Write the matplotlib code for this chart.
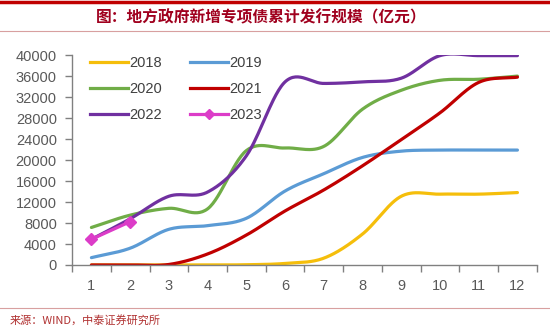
import numpy as np
import matplotlib
matplotlib.use("Agg")
import matplotlib.pyplot as plt
from matplotlib.lines import Line2D

plt.rcParams['font.family'] = ['Liberation Sans', 'Noto Sans CJK SC', 'DejaVu Sans']

months = list(range(1, 13))
month_labels = [str(m) for m in months]

y2018 = [0, 0, 0, 0, 50, 300, 1300, 5900, 13100, 13500, 13500, 13800]
y2019 = [1400, 3200, 6800, 7500, 8900, 14100, 17400, 20500, 21700, 21900, 21900, 21900]
y2020 = [7150, 9500, 10800, 10700, 21800, 22300, 22600, 29700, 33300, 35200, 35400, 36000]
y2021 = [0, 0, 100, 2100, 5700, 10300, 14300, 18900, 23900, 29000, 34800, 35800]
y2022 = [4900, 8800, 13100, 13900, 20800, 34900, 34600, 34900, 35600, 39900, 39900, 39900]
y2023 = [4900, 8250]

yticks = list(range(0, 40001, 4000))

series = [
    ("2018", y2018, "#F5BE0B"),
    ("2019", y2019, "#5B9BD5"),
    ("2020", y2020, "#70AD47"),
    ("2021", y2021, "#C00000"),
    ("2022", y2022, "#7030A0"),
]
c2023 = "#DC3CC8"


def smooth(x, y, n=30):
    x = np.asarray(x, float)
    y = np.asarray(y, float)
    if len(x) < 3:
        return x, y
    P = np.column_stack([x, y])
    P = np.vstack([P[0] - (P[1] - P[0]), P, P[-1] + (P[-1] - P[-2])])
    out = []
    for i in range(1, len(P) - 2):
        p0, p1, p2, p3 = P[i - 1], P[i], P[i + 1], P[i + 2]
        t = np.linspace(0, 1, n, endpoint=False)[:, None]
        b1 = p1 + (p2 - p0) / 6
        b2 = p2 - (p3 - p1) / 6
        pts = ((1 - t) ** 3) * p1 + 3 * ((1 - t) ** 2) * t * b1 + 3 * (1 - t) * t ** 2 * b2 + t ** 3 * p2
        out.append(pts)
    out.append(P[-2][None, :])
    out = np.vstack(out)
    return out[:, 0], out[:, 1]


fig = plt.figure(figsize=(5.5, 3.3), dpi=100)
ax = fig.add_axes([0.131, 0.197, 0.845, 0.636])

lw = 2.3
handles = {}
for name, vals, col in series:
    sx, sy = smooth(months, vals)
    ax.plot(sx, sy, color=col, lw=lw, solid_capstyle='round', zorder=2)
    handles[name] = Line2D([], [], color=col, lw=lw)

ax.plot(months[:len(y2023)], y2023, color=c2023, lw=lw, marker='D', ms=6,
        markeredgecolor=c2023, zorder=3)
handles["2023"] = Line2D([], [], color=c2023, lw=lw, marker='D', ms=5)

ax.set_xlim(0.5, 12.5)
ax.set_ylim(0, 40000)
ax.set_yticks(yticks)
ax.set_yticklabels([str(v) for v in yticks])
ax.set_xticks(months)
ax.set_xticklabels(month_labels)
ax.set_xticks(np.arange(0.5, 12.6, 1), minor=True)
ax.tick_params(axis='x', which='major', length=0, pad=10, labelsize=10.5, labelcolor='#595959')
ax.tick_params(axis='x', which='minor', length=5, color='#808080', width=1)
ax.tick_params(axis='y', length=5, color='#808080', width=1, labelsize=10.5,
               labelcolor='#595959', pad=6)
for s in ['top', 'right']:
    ax.spines[s].set_visible(False)
for s in ['left', 'bottom']:
    ax.spines[s].set_color('#808080')
    ax.spines[s].set_linewidth(1)

order = ["2018", "2020", "2022", "2019", "2021", "2023"]
leg = ax.legend([handles[k] for k in order], order, ncol=2, frameon=False,
                loc='upper left', bbox_to_anchor=(0.01, 1.06), fontsize=10.5,
                handlelength=2.6, handletextpad=0.1, columnspacing=1.9,
                labelspacing=0.85, labelcolor='#404040')

# decorations
fig.add_artist(Line2D([0, 1], [0.994, 0.994], color='#C00000', lw=2.5, transform=fig.transFigure))
fig.add_artist(Line2D([0, 1], [0.906, 0.906], color='#D8A0A0', lw=0.8, transform=fig.transFigure))
fig.add_artist(Line2D([0, 1], [0.067, 0.067], color='#D8A0A0', lw=0.8, transform=fig.transFigure))
fig.text(0.475, 0.948, "图：地方政府新增专项债累计发行规模（亿元）", ha='center', va='center',
         fontsize=11.3, fontweight='bold', color='#A0001E',
         family=['Noto Sans CJK SC', 'DejaVu Sans'])
fig.text(0.018, 0.028, "来源：WIND，中泰证券研究所", ha='left', va='center',
         fontsize=8, color='#B03030', family=['Noto Sans CJK SC', 'DejaVu Sans'])

fig.savefig("out.png", dpi=100)
